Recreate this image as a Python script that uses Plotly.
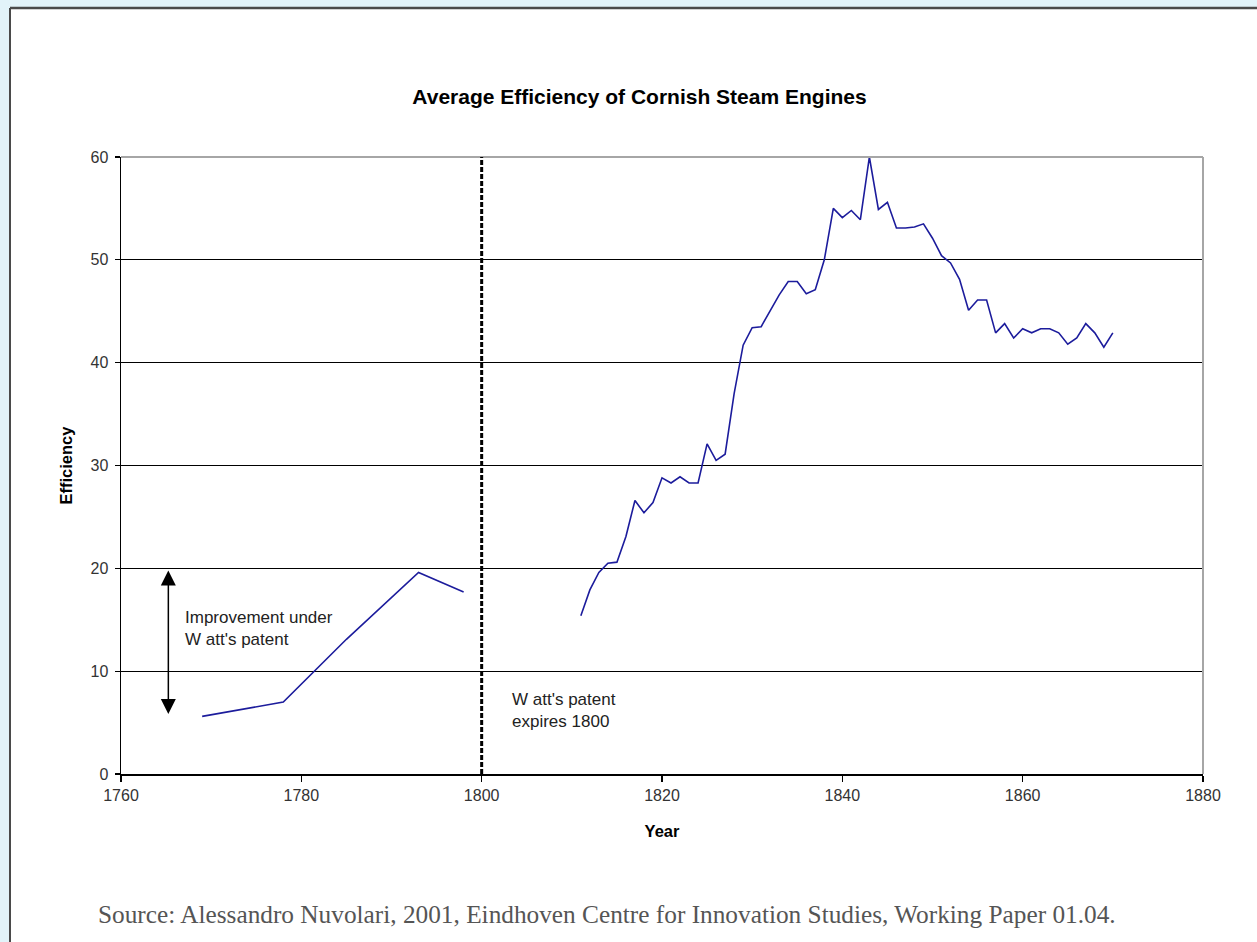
import plotly.graph_objects as go

# ---- data ----
early_years = [1769, 1778, 1785, 1793, 1798]
early_eff = [5.6, 7.0, 13.1, 19.6, 17.7]

late_years = list(range(1811, 1871))
late_eff = [15.4, 17.9, 19.6, 20.5, 20.6, 23.1, 26.6, 25.4, 26.4, 28.8,
            28.3, 28.9, 28.3, 28.3, 32.1, 30.5, 31.1, 37.0, 41.7, 43.4,
            43.5, 45.0, 46.6, 47.9, 47.9, 46.7, 47.1, 50.0, 55.0, 54.1,
            54.8, 53.9, 60.0, 54.9, 55.6, 53.1, 53.1, 53.2, 53.5, 52.1,
            50.4, 49.7, 48.1, 45.1, 46.1, 46.1, 42.9, 43.8, 42.4, 43.3,
            42.9, 43.3, 43.3, 42.9, 41.8, 42.4, 43.8, 42.9, 41.5, 42.9]

x_ticks = [1760, 1780, 1800, 1820, 1840, 1860, 1880]
y_ticks = [0, 10, 20, 30, 40, 50, 60]

patent_year = 1800
arrow_year = 1765.25
arrow_top, arrow_bottom = 19.8, 5.7

title_text = "Average Efficiency of Cornish Steam Engines"
x_title = "Year"
y_title = "Efficiency"
note_improvement = "Improvement under<br>W att's patent"
note_expiry = "W att's patent<br>expires 1800"
source_text = "Source: Alessandro Nuvolari, 2001, Eindhoven Centre for Innovation Studies, Working Paper 01.04."

LINE_COLOR = "#1c1c9c"
SANS = "Liberation Sans, Arial, sans-serif"
SERIF = "Liberation Serif, Times New Roman, serif"

fig = go.Figure()
fig.add_trace(go.Scatter(x=early_years, y=early_eff, mode="lines",
                         line=dict(color=LINE_COLOR, width=1.6), cliponaxis=False))
fig.add_trace(go.Scatter(x=late_years, y=late_eff, mode="lines",
                         line=dict(color=LINE_COLOR, width=1.6), cliponaxis=False))

W, H = 1257, 942
ML, MR, MT, MB = 121, 54, 157, 168
pw, ph = W - ML - MR, H - MT - MB

def px_x(p):
    return (p - ML) / pw

def px_y(p):
    return (H - MB - p) / ph

shapes = [
    # white page panel
    dict(type="rect", xref="paper", yref="paper", x0=px_x(10), x1=px_x(W + 5),
         y0=px_y(H + 5), y1=px_y(8), fillcolor="white", line=dict(width=0), layer="below"),
    # page border top and left
    dict(type="line", xref="paper", yref="paper", x0=px_x(10), x1=px_x(W + 5),
         y0=px_y(8), y1=px_y(8), line=dict(color="#4a4a4a", width=2.5), layer="below"),
    dict(type="line", xref="paper", yref="paper", x0=px_x(10), x1=px_x(10),
         y0=px_y(H + 5), y1=px_y(8), line=dict(color="#4a4a4a", width=2), layer="below"),
    # grey top/right of plot frame
    dict(type="line", xref="paper", yref="paper", x0=0, x1=1, y0=1, y1=1,
         line=dict(color="#a6a6a6", width=2)),
    dict(type="line", xref="paper", yref="paper", x0=1, x1=1, y0=0, y1=1,
         line=dict(color="#a6a6a6", width=2)),
    # patent expiry dashed line
    dict(type="line", xref="x", yref="paper", x0=patent_year, x1=patent_year, y0=0, y1=1,
         line=dict(color="black", width=3, dash="5px,2px")),
]

annotations = [
    dict(x=arrow_year, y=arrow_top, ax=arrow_year, ay=arrow_bottom, xref="x", yref="y",
         axref="x", ayref="y", text="", showarrow=True, arrowhead=2, arrowside="end+start",
         arrowsize=2.0, arrowwidth=1.5, arrowcolor="black", standoff=0, startstandoff=0),
    dict(x=1766.85, y=14.15, xref="x", yref="y", text=note_improvement, showarrow=False,
         xanchor="left", yanchor="middle", align="left",
         font=dict(family=SANS, size=17, color="#222222")),
    dict(x=1803.1, y=6.15, xref="x", yref="y", text=note_expiry, showarrow=False,
         xanchor="left", yanchor="middle", align="left",
         font=dict(family=SANS, size=17, color="#222222")),
    dict(x=px_x(96), y=px_y(914), xref="paper", yref="paper", text=source_text,
         showarrow=False, xanchor="left", yanchor="middle",
         font=dict(family=SERIF, size=25.3, color="#555555")),
]

fig.update_layout(
    width=W, height=H,
    margin=dict(l=ML, r=MR, t=MT, b=MB, autoexpand=False),
    paper_bgcolor="#e2f3f9",
    plot_bgcolor="white",
    showlegend=False,
    hovermode=False,
    title=dict(text="<b>" + title_text + "</b>", x=px_x(639.5), xref="paper", xanchor="center",
               y=1 - 96.5 / H, yanchor="middle",
               font=dict(family=SANS, size=21, color="black")),
    xaxis=dict(range=[1760, 1880], tickvals=x_ticks, ticktext=[str(v) for v in x_ticks],
               showgrid=False, zeroline=False, showline=True, linecolor="black", linewidth=1.5,
               ticks="outside", ticklen=6, tickcolor="black", tickwidth=1.2,
               tickfont=dict(family=SANS, size=16, color="#333333"),
               title=dict(text="<b>" + x_title + "</b>", standoff=22,
                          font=dict(family=SANS, size=16.5, color="black")),
               automargin=False),
    yaxis=dict(range=[0, 60], tickvals=y_ticks, ticktext=[str(v) for v in y_ticks],
               showgrid=True, gridcolor="black", gridwidth=1.2, zeroline=False,
               showline=True, linecolor="black", linewidth=1.5,
               ticks="outside", ticklen=5, tickcolor="black", tickwidth=1.2,
               ticklabelstandoff=3,
               tickfont=dict(family=SANS, size=16, color="#333333"),
               title=dict(text="<b>" + y_title + "</b>", standoff=13,
                          font=dict(family=SANS, size=16.5, color="black")),
               automargin=False),
    shapes=shapes,
    annotations=annotations,
)

fig.write_html(
    "out.html",
    config={"displayModeBar": False, "staticPlot": True},
    post_script="document.body.style.margin='0';document.body.style.overflow='hidden';"
                "document.body.style.background='#e2f3f9';",
)
